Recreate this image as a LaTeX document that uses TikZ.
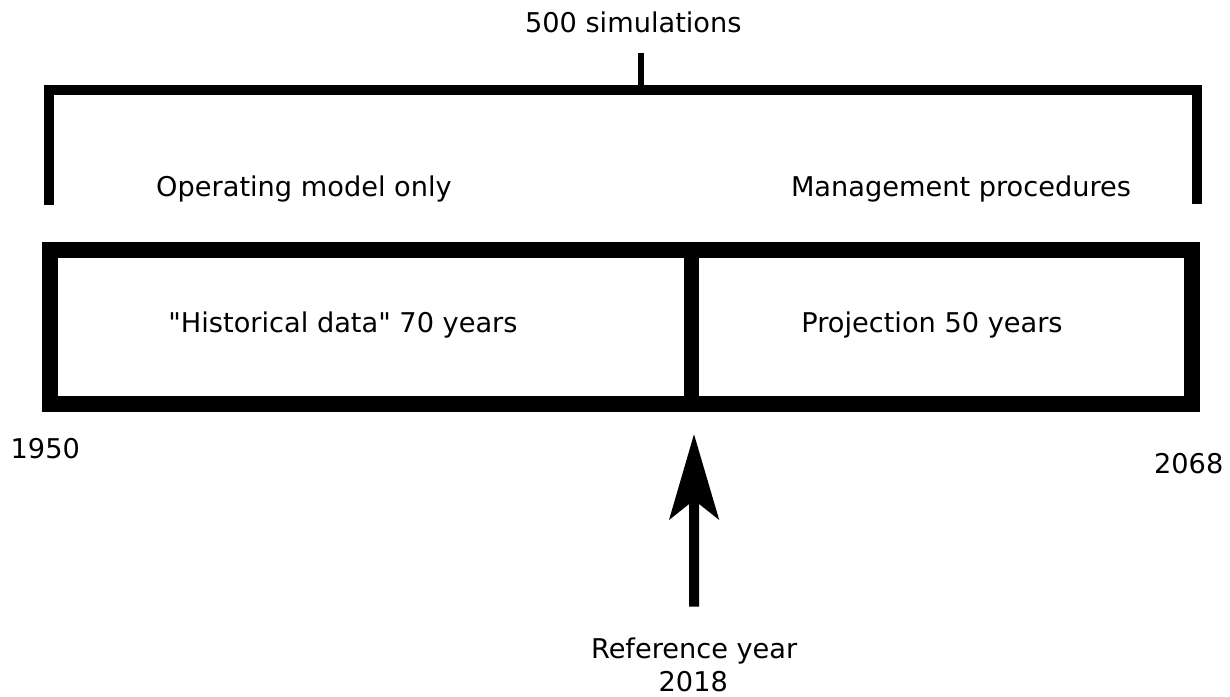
\documentclass[tikz,border=0pt]{standalone}
\usepackage{fontspec}
% plain family without TeX ligatures, so " stays a straight quote
\newfontfamily\labelfont{DejaVu Sans}
\usetikzlibrary{arrows.meta}
\begin{document}
\begin{tikzpicture}[x=0.5pt,y=-0.5pt,
  lbl/.style={font=\labelfont\fontsize{13.6pt}{16pt}\selectfont, inner sep=0pt, anchor=base},
  bracket/.style={line width=5pt, line join=miter},
  frame/.style={line width=8pt, line join=miter},
  bigarrow/.style={line width=5pt, -{Stealth[length=42.5pt,width=24.5pt,inset=9.5pt]}}]
\useasboundingbox (0,0) rectangle (1230,696);
% bracket spanning all simulations
\draw[bracket] (49,205) -- (49,89.5) -- (1197,89.5) -- (1197,204);
\draw[line width=3pt] (641,53) -- (641,89.5);
\node[lbl] (sims) at (633.3,32.3) {500 simulations};
\node[lbl] (om) at (304,196.7) {Operating model only};
\node[lbl] (mp) at (961,196.7) {Management procedures};
% timeline box with divider at the reference year
\draw[frame] (50,250) rectangle (1191.5,404);
\draw[line width=7.5pt] (691,250) -- (691,404);
\node[lbl] (hist) at (343,332) {"Historical data" 70 years};
\node[lbl] (proj) at (932,332) {Projection 50 years};
\node[lbl] (y1950) at (45.3,458) {1950};
\node[lbl] (y2068) at (1188.7,473.3) {2068};
% reference year marker
\node[lbl] (ref) at (694.2,658.3) {Reference year};
\node[lbl] (y2018) at (693.3,691.7) {2018};
\coordinate (tip) at (694,434);
\draw[bigarrow] ([yshift=15.3pt]ref.north) -- (tip);
\end{tikzpicture}
\end{document}
